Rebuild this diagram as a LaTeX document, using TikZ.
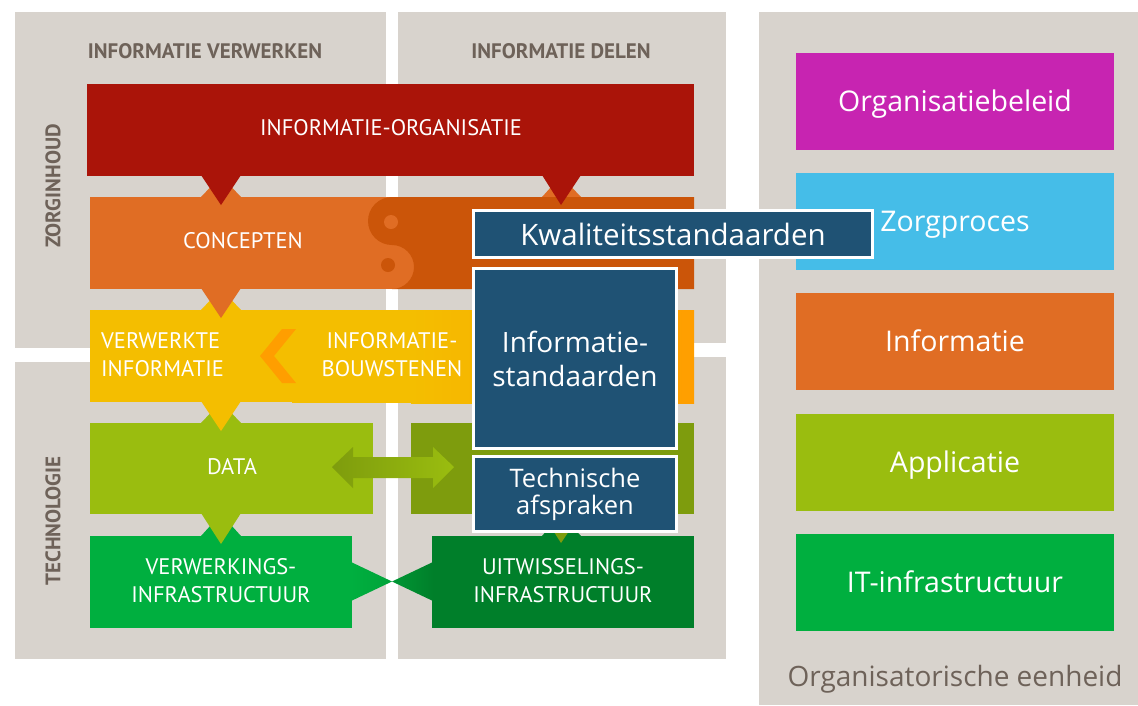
\documentclass[tikz,border=0pt]{standalone}
\usepackage{fontspec}
\setmainfont{Open Sans}
\newfontfamily\capsfont{PT Sans}

\definecolor{panelgray}{HTML}{D8D3CD}
\definecolor{headgray}{HTML}{6E6259}
\definecolor{orgred}{HTML}{AA1409}
\definecolor{conclight}{HTML}{E06D24}
\definecolor{concdark}{HTML}{CB5509}
\definecolor{infoyellow}{HTML}{F4BE00}
\definecolor{infoorange}{HTML}{FF9E00}
\definecolor{datalight}{HTML}{9ABD0F}
\definecolor{datadark}{HTML}{7E9C0D}
\definecolor{infralight}{HTML}{00AF3F}
\definecolor{infradark}{HTML}{007F2A}
\definecolor{stdblue}{HTML}{1F5274}
\definecolor{beleidpink}{HTML}{C724B1}
\definecolor{procesblue}{HTML}{45BDE8}

\tikzset{
  headlabel/.style={text=headgray, font=\capsfont\bfseries\fontsize{21}{24}\selectfont},
  caplabel/.style={text=white, font=\capsfont\fontsize{22.5}{28}\selectfont, align=center, inner sep=0pt},
  stdbox/.style={fill=stdblue, draw=white, line width=3pt, text=white, align=center,
    inner sep=0pt, font=\fontsize{28}{34}\selectfont},
  layerbox/.style={minimum width=318pt, minimum height=97pt, inner sep=0pt, text=white,
    text height=20pt, text depth=0pt, font=\fontsize{28.5}{32}\selectfont},
}

\begin{document}
\begin{tikzpicture}[x=1pt,y=-1pt]

    \useasboundingbox (0,0) rectangle (1138,705);

    % --- Gray panels ---
    \fill[panelgray] (15,12) rectangle (386,348);
    \fill[panelgray] (15,362) rectangle (386,659);
    \fill[panelgray] (398,12) rectangle (726,343);
    \fill[panelgray] (398,357) rectangle (726,659);
    \fill[panelgray] (759,12) rectangle (1138,705);

    % --- Panel headings ---
    \node[headlabel] (verwerken) at (205,51) {INFORMATIE VERWERKEN};
    \node[headlabel] (delen) at (561,51) {INFORMATIE DELEN};
    \node[headlabel, rotate=90] (zorginhoud) at (53,186) {ZORGINHOUD};
    \node[headlabel, rotate=90] (technologie) at (53,521) {TECHNOLOGIE};

    % --- Tabs pointing up, behind the triangles ---
    \fill[conclight] (201,197) -- (221,176) -- (241,197) -- cycle;
    \fill[conclight] (542,197) -- (561,176) -- (581,197) -- cycle;
    \fill[infoyellow] (201,310) -- (221,289) -- (241,310) -- cycle;
    \fill[datalight] (201,423) -- (221,402) -- (241,423) -- cycle;
    \fill[infralight] (201,536) -- (221,514) -- (241,536) -- cycle;
    \fill[infradark] (542,536) -- (561,514) -- (581,536) -- cycle;

    % --- Informatie-organisatie band ---
    \fill[orgred] (87,84) rectangle (694,176);

    % --- Concepten band with the S ---
    \fill[conclight] (90,197) rectangle (694,289);
    \fill[concdark] (392,197) arc[start angle=90, end angle=270, radius=24pt]
      arc[start angle=90, end angle=-90, radius=22pt] -- (694,289) -- (694,197) -- cycle;
    \fill[conclight] (391,222) circle[radius=7pt];
    \fill[concdark] (388,265) circle[radius=7pt];

    % --- Yellow band ---
    \fill[infoyellow] (90,310) rectangle (300,402);
    \fill[infoyellow] (292,310) rectangle (412,403);
    \shade[left color=infoyellow, right color=infoorange] (411,310) rectangle (694,403);
    \fill[infoorange] (296,329) -- (282,329) -- (260,356) -- (282,383) -- (296,383)
      -- (274,356) -- cycle;

    % --- Data band ---
    \fill[datalight] (90,423) rectangle (373,514);
    \fill[datadark] (411,423) rectangle (694,514);
    \shade[left color=datadark, right color=datalight] (332,467) -- (353,447) -- (353,457)
      -- (433,457) -- (433,447) -- (454,467) -- (433,488) -- (433,478) -- (353,478)
      -- (353,488) -- cycle;

    % --- Infrastructure band ---
    \fill[infralight] (90,536) rectangle (352,628);
    \fill[infradark] (432,536) rectangle (694,628);
    \shade[left color=infralight, right color=infralight!75!infradark]
      (351,562) -- (392,581.5) -- (351,601) -- cycle;
    \shade[left color=infralight!50!infradark, right color=infradark]
      (433,562) -- (392,581.5) -- (433,601) -- cycle;

    % --- Triangles pointing down ---
    \fill[orgred] (201,175) -- (241,175) -- (221,205) -- cycle;
    \fill[orgred] (542,175) -- (581,175) -- (561,205) -- cycle;
    \fill[conclight] (201,288) -- (241,288) -- (221,318) -- cycle;
    \fill[infoyellow] (201,401) -- (241,401) -- (221,431) -- cycle;
    \fill[datalight] (201,513) -- (241,513) -- (221,544) -- cycle;
    \fill[datadark] (542,513) -- (581,513) -- (561,543) -- cycle;

    % --- Band labels ---
    \node[caplabel] (organisatie) at (391,128) {INFORMATIE-ORGANISATIE};
    \node[caplabel] (concepten) at (243,241) {CONCEPTEN};
    \node[caplabel, anchor=west, align=left] (verwerkt) at (101,355) {VERWERKTE\\INFORMATIE};
    \node[caplabel] (bouwstenen) at (392,355) {INFORMATIE-\\BOUWSTENEN};
    \node[caplabel] (data) at (232,467) {DATA};
    \node[caplabel] (verwerking) at (221,581) {VERWERKINGS-\\INFRASTRUCTUUR};
    \node[caplabel] (uitwisseling) at (563,581) {UITWISSELINGS-\\INFRASTRUCTUUR};

    % --- Layers of the organisational unit ---
    \node[layerbox, fill=beleidpink] (beleid) at (955,101.5) {Organisatiebeleid};
    \node[layerbox, fill=procesblue] (proces) at (955,221.5) {Zorgproces};
    \node[layerbox, fill=conclight] (informatie) at (955,341.5) {Informatie};
    \node[layerbox, fill=datalight] (applicatie) at (955,462) {Applicatie};
    \node[layerbox, fill=infralight] (infra) at (955,582.5) {IT-infrastructuur};
    \node[text=headgray, font=\fontsize{28}{32}\selectfont] (eenheid) at (955,679)
      {Organisatorische eenheid};

    % --- Standards boxes ---
    \node[stdbox, minimum width=399pt, minimum height=47pt,
      font=\fontsize{29.5}{34}\selectfont] (kwaliteit) at (673,234) {Kwaliteitsstandaarden};
    \node[stdbox, minimum width=203pt, minimum height=180pt] (infostd) at (575,358.5)
      {Informatie-\\standaarden};
    \node[stdbox, minimum width=203pt, minimum height=75pt,
      font=\fontsize{25.5}{27}\selectfont] (technisch) at (575,494) {Technische\\afspraken};

\end{tikzpicture}
\end{document}
